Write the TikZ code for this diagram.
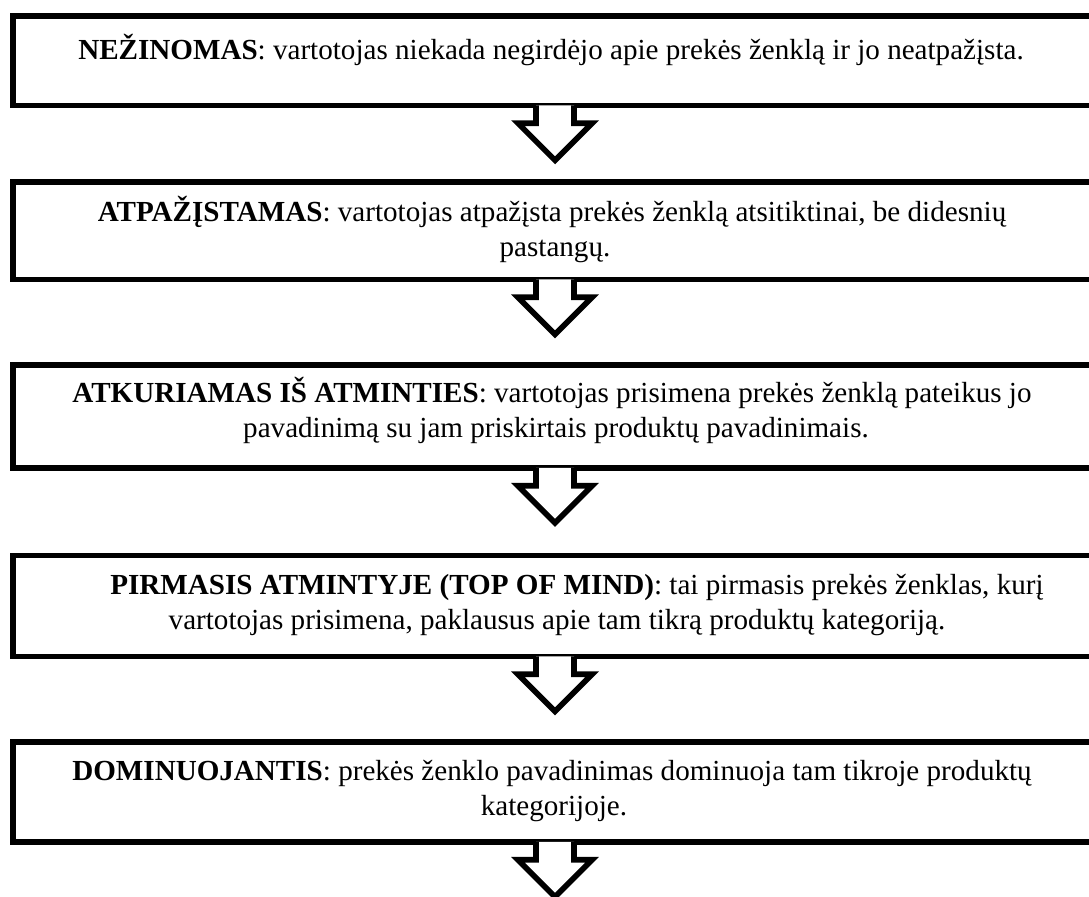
\documentclass[tikz,border=0pt]{standalone}
\usepackage{fontspec}
\setmainfont{Liberation Serif}
\tikzset{
  stage/.style={draw, line width=2.8pt, rectangle, inner sep=0pt, minimum width=542pt},
  lbl/.style={inner sep=0pt, anchor=base, font=\fontsize{14.55}{17}\selectfont},
  blockarrow/.pic={
    \fill[white] (-19,-3) -- (-19,15) -- (-37,15) -- (0,52) -- (37,15) -- (19,15) -- (19,-3) -- cycle;
    \draw[line width=2.8pt, miter limit=10]
      (-19,-2.8) -- (-19,15) -- (-37,15) -- (0,52) -- (37,15) -- (19,15) -- (19,-2.8);
  }
}
\begin{document}
\begin{tikzpicture}[x=0.5pt, y=-0.5pt]
  \useasboundingbox (0,0) rectangle (1089,897);
  \clip (0,0) rectangle (1089,897);
  \fill[white] (0,0) rectangle (1089,897);

  % stage boxes (their right side runs past the page edge)
  \node[stage, minimum height=44.75pt] (b1) at (555,60.75) {};
  \node[stage, minimum height=48.75pt] (b2) at (555,230.75) {};
  \node[stage, minimum height=51.5pt]  (b3) at (555,416.5) {};
  \node[stage, minimum height=50.5pt]  (b4) at (555,606) {};
  \node[stage, minimum height=50pt]    (b5) at (555,792) {};

  % hollow arrows between the stages
  \pic at (b1.south) {blockarrow};
  \pic at (b2.south) {blockarrow};
  \pic at (b3.south) {blockarrow};
  \pic at (b4.south) {blockarrow};
  \pic at (b5.south) {blockarrow};

  % texts
  \node[lbl] (t1) at (551,60) {\textbf{NEŽINOMAS}: vartotojas niekada negirdėjo apie prekės ženklą ir jo neatpažįsta.};
  \node[lbl] (t2a) at (552,222) {\textbf{ATPAŽĮSTAMAS}: vartotojas atpažįsta prekės ženklą atsitiktinai, be didesnių};
  \node[lbl] (t2b) at (555,257) {pastangų.};
  \node[lbl] (t3a) at (552,403) {\textbf{ATKURIAMAS IŠ ATMINTIES}: vartotojas prisimena prekės ženklą pateikus jo};
  \node[lbl] (t3b) at (556,438) {pavadinimą su jam priskirtais produktų pavadinimais.};
  \node[lbl] (t4a) at (577,595) {\textbf{PIRMASIS ATMINTYJE (TOP OF MIND)}: tai pirmasis prekės ženklas, kurį};
  \node[lbl] (t4b) at (557,630) {vartotojas prisimena, paklausus apie tam tikrą produktų kategoriją.};
  \node[lbl] (t5a) at (552,781) {\textbf{DOMINUOJANTIS}: prekės ženklo pavadinimas dominuoja tam tikroje produktų};
  \node[lbl] (t5b) at (554,816) {kategorijoje.};
\end{tikzpicture}
\end{document}
